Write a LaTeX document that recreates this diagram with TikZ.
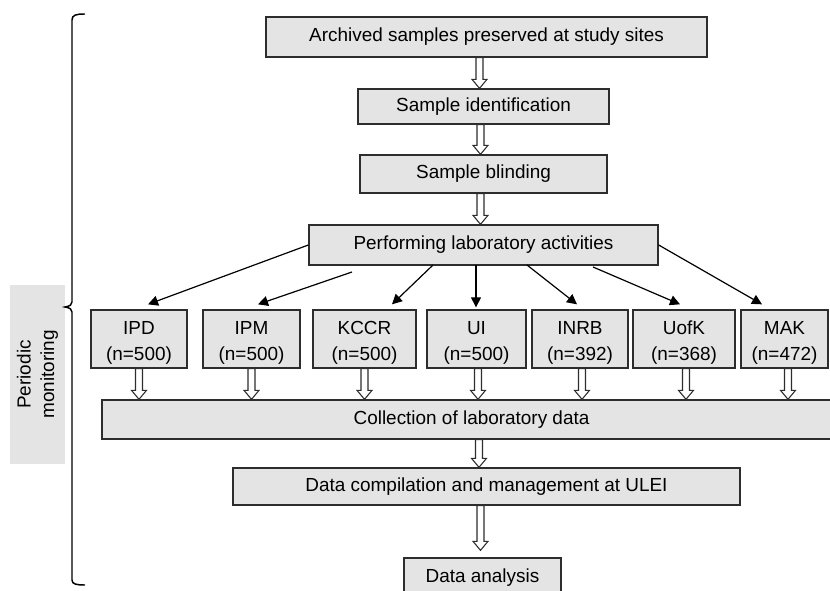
\documentclass[tikz,border=0pt]{standalone}
\usepackage{fontspec}
\setmainfont{Liberation Sans}
\usepackage{tikz}
\usetikzlibrary{arrows.meta}
\usetikzlibrary{calc}

\definecolor{boxgray}{RGB}{228,228,228}
\definecolor{edgegray}{RGB}{45,45,45}

\tikzset{
  flowbox/.style={draw=edgegray, line width=1pt, fill=boxgray, inner sep=0.75pt,
    align=center, font=\fontsize{14.2}{19}\selectfont},
  labbox/.style={flowbox, minimum width=#1, minimum height=43.5pt,
    execute at begin node={\rule{0pt}{34.5pt}}},
  thinarrow/.style={line width=0.9pt, -{Triangle[length=7.5pt,width=7.5pt]}},
  hollow/.style={draw=edgegray, line width=0.8pt, fill=white},
}

% hollow arrow from #1 straight down to #2
\newcommand{\hollowarr}[2]{%
  \path (#1) coordinate (hs) (#2) coordinate (he);
  \path (hs -| he) coordinate (hs);
  \draw[hollow] ($(hs)+(-3.5,0)$) -- ($(he)+(-3.5,-9)$) -- ($(he)+(-7.5,-9)$) -- (he)
    -- ($(he)+(7.5,-9)$) -- ($(he)+(3.5,-9)$) -- ($(hs)+(3.5,0)$) -- cycle;
}

\begin{document}
\begin{tikzpicture}[x=0.75pt,y=0.75pt,yscale=-1,xscale=1]
\useasboundingbox (0,0) rectangle (830,591);

%Periodic monitoring label
\node [fill=boxgray, rotate=90, minimum width=134.25pt, minimum height=41.25pt, inner sep=0pt,
  align=center, font=\fontsize{14.2}{17.5}\selectfont] (per) at (37.5,374.5) {Periodic\\monitoring};

%Curly bracket
\draw [line width=1.1pt] (85,14) .. controls (76,14) and (72,15) .. (72,20) -- (72,302)
  .. controls (72,305) and (70,306) .. (65,307) .. controls (70,308) and (72,309) .. (72,312)
  -- (72,580) .. controls (72,584) and (76,585) .. (85,585) ;

%Top chain
\node [flowbox, minimum width=330.75pt, minimum height=30pt] (arch) at (486.5,37) {Archived samples preserved at study sites};
\node [flowbox, minimum width=188.25pt, minimum height=26.25pt] (ident) at (483.5,106.5) {Sample identification};
\node [flowbox, minimum width=185.25pt, minimum height=28.5pt] (blind) at (483.5,174) {Sample blinding};
\node [flowbox, minimum width=261.75pt, minimum height=30pt] (perf) at (483.5,245) {Performing laboratory activities};

%Laboratories
\node [labbox=72pt] (ipd) at (139,339) {IPD\\(n=500)};
\node [labbox=72.75pt] (ipm) at (251.5,339) {IPM\\(n=500)};
\node [labbox=77.25pt] (kccr) at (364.5,339) {KCCR\\(n=500)};
\node [labbox=74.25pt] (ui) at (476.5,339) {UI\\(n=500)};
\node [labbox=72pt] (inrb) at (580,339) {INRB\\(n=392)};
\node [labbox=76.5pt] (uofk) at (684,339) {UofK\\(n=368)};
\node [labbox=65.25pt] (mak) at (784.5,339) {MAK\\(n=472)};

%Bottom chain
\node [flowbox, minimum width=554.25pt, minimum height=29.25pt] (coll) at (471.5,419.5) {Collection of laboratory data};
\node [flowbox, minimum width=380.25pt, minimum height=27.75pt] (comp) at (486.5,486.5) {Data compilation and management at ULEI};
\node [flowbox, minimum width=117.75pt, minimum height=30pt] (anal) at (482.5,578) {Data analysis};

%Hollow arrows
\hollowarr{arch.south}{$(ident.north)+(-4,0)$}
\hollowarr{ident.south}{$(blind.north)+(-3,0)$}
\hollowarr{blind.south}{$(perf.north)+(-3,0)$}
\hollowarr{ipd.south}{coll.north -| ipd.south}
\hollowarr{ipm.south}{coll.north -| ipm.south}
\hollowarr{kccr.south}{coll.north -| kccr.south}
\hollowarr{ui.south}{$(coll.north -| ui.south)+(1.5,0)$}
\hollowarr{inrb.south}{$(coll.north -| inrb.south)+(2,0)$}
\hollowarr{uofk.south}{$(coll.north -| uofk.south)+(2,0)$}
\hollowarr{mak.south}{$(coll.north -| mak.south)+(3.5,0)$}
\hollowarr{coll.south}{$(comp.north)+(-7.5,0)$}
\hollowarr{comp.south}{$(anal.north)+(-2,-7)$}

%Arrows to the laboratories
\coordinate (s2) at (352,272);
\coordinate (s3) at (433,265);
\coordinate (s4) at (476,265);
\coordinate (s5) at (527,265);
\coordinate (s6) at (593,267);
\draw [thinarrow] (perf.west) -- ($(ipd.north)+(9,-5)$);
\draw [thinarrow] (s2) -- ($(ipm.north)+(6.5,-5)$);
\draw [thinarrow] (s3) -- ($(kccr.north)+(27.5,-5)$);
\draw [thinarrow] (s4) -- ($(ui.north)+(-0.5,-2)$);
\draw [thinarrow] (s5) -- ($(inrb.north)+(-3,-5)$);
\draw [thinarrow] (s6) -- ($(uofk.north)+(-4,-5)$);
\draw [thinarrow] (perf.east) -- ($(mak.north)+(-22.5,-5)$);

\end{tikzpicture}
\end{document}
